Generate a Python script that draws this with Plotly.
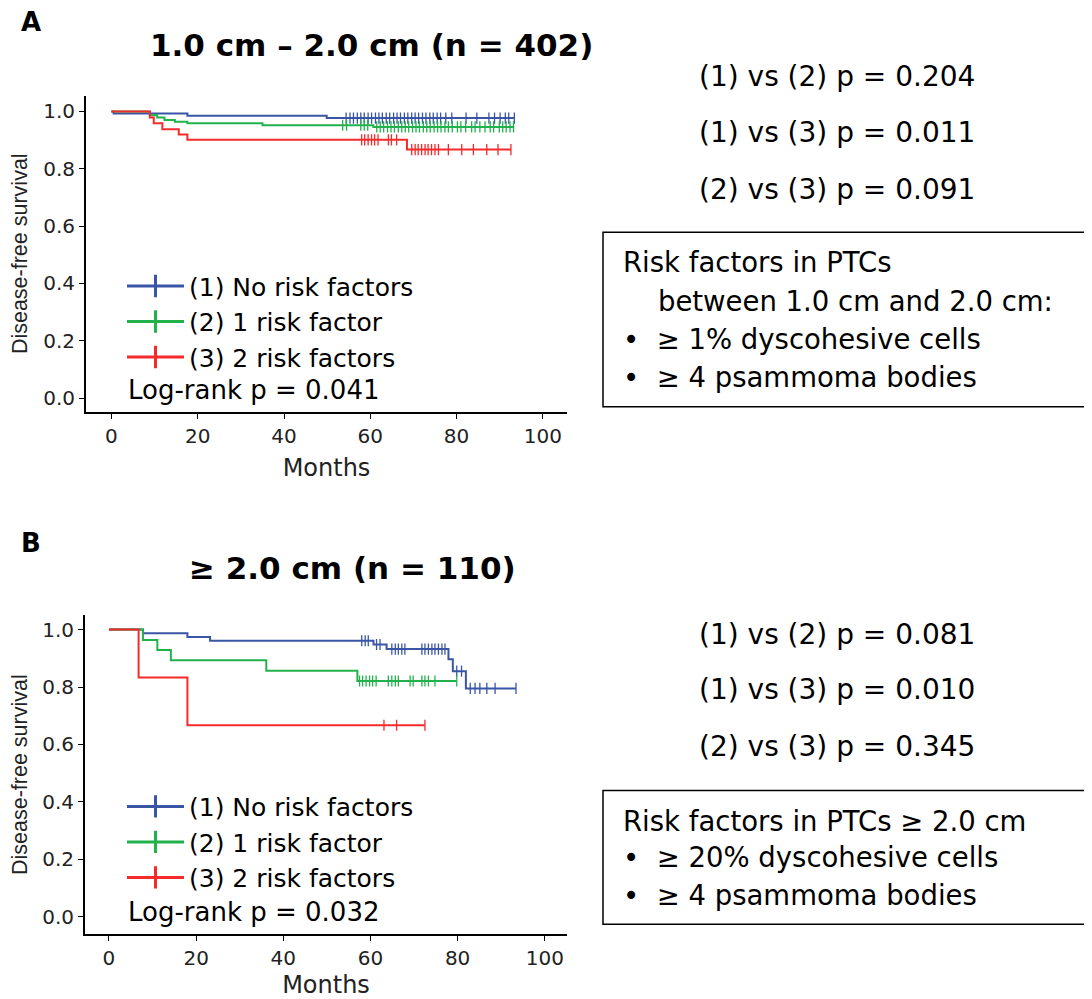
import plotly.graph_objects as go

# ---------------- data ----------------
groups = ["(1) No risk factors", "(2) 1 risk factor", "(3) 2 risk factors"]
colors = ["#3A55A6", "#22B24C", "#F52A2A"]

# Panel A: 1.0 cm - 2.0 cm
A_blue_t = [0.5, 17.6, 49.9]
A_blue_s = [0.993, 0.985, 0.977]
A_blue_c = [54.4, 55.3, 56.1, 57.0, 57.8, 58.6, 59.5, 60.3, 61.2, 62.0, 62.8, 63.7, 64.5,
            65.4, 66.2, 67.0, 67.9, 68.7, 69.6, 70.4, 71.2, 72.1, 72.9, 73.8, 74.6, 75.5,
            76.3, 77.5, 78.9, 82.2, 84.7, 87.5, 88.8, 90.1, 91.3, 92.1, 93.4]
A_green_t = [8.9, 10.6, 12.3, 14.7, 17.6, 35.0, 60.7]
A_green_s = [0.987, 0.979, 0.970, 0.964, 0.959, 0.952, 0.946]
A_green_c = [53.6, 54.5, 57.8, 58.6, 59.4, 61.5, 62.3, 63.1, 64.0, 64.8, 65.6, 66.5, 67.3,
             68.1, 68.9, 69.8, 70.6, 71.4, 72.3, 73.1, 73.9, 74.8, 75.6, 76.4, 77.3, 78.1,
             79.0, 80.2, 81.0, 82.1, 83.5, 84.3, 85.4, 86.6, 87.8, 88.6, 89.9, 90.7, 91.5,
             92.4, 93.2]
A_red_t = [8.9, 9.8, 11.8, 15.6, 17.6, 68.5]
A_red_s = [0.979, 0.959, 0.938, 0.920, 0.901, 0.867]
A_red_c = [58.0, 58.7, 59.5, 60.3, 61.0, 61.8, 64.2, 64.9, 66.1, 69.6, 70.4, 71.1, 71.9,
           72.7, 73.4, 74.2, 75.0, 75.8, 78.1, 81.2, 83.9, 87.0, 89.6, 92.6]

# Panel B: >= 2.0 cm
B_blue_t = [7.8, 18.0, 23.2, 60.7, 63.7, 77.9, 78.9, 81.9]
B_blue_s = [0.987, 0.974, 0.961, 0.948, 0.932, 0.897, 0.855, 0.795]
B_blue_c = [58.0, 58.8, 59.5, 61.4, 62.2, 64.9, 65.7, 66.4, 67.2, 67.9, 71.8, 72.5, 73.3,
            74.1, 74.8, 75.6, 76.4, 77.1, 79.8, 80.9, 82.9, 84.0, 85.1, 86.7, 88.6, 93.4]
B_green_t = [7.8, 11.1, 14.2, 36.1, 57.0]
B_green_s = [0.964, 0.929, 0.893, 0.857, 0.821]
B_green_c = [57.5, 58.2, 59.0, 59.8, 60.5, 61.3, 64.1, 64.9, 65.7, 66.4, 69.1, 69.8, 71.8,
             72.5, 73.3, 74.8, 79.8]
B_red_t = [6.8, 18.0]
B_red_s = [0.833, 0.667]
B_red_c = [63.1, 66.0, 72.5]

y_ticks = [0.0, 0.2, 0.4, 0.6, 0.8, 1.0]
x_ticks = [0, 20, 40, 60, 80, 100]

A_title = "1.0 cm – 2.0 cm (n = 402)"
B_title = "≥ 2.0 cm (n = 110)"
A_pvals = ["(1) vs (2) p = 0.204", "(1) vs (3) p = 0.011", "(2) vs (3) p = 0.091"]
B_pvals = ["(1) vs (2) p = 0.081", "(1) vs (3) p = 0.010", "(2) vs (3) p = 0.345"]
A_logrank = "Log-rank p = 0.041"
B_logrank = "Log-rank p = 0.032"
A_box = ["Risk factors in PTCs", "    between 1.0 cm and 2.0 cm:",
         "•  ≥ 1% dyscohesive cells", "•  ≥ 4 psammoma bodies"]
B_box = ["Risk factors in PTCs ≥ 2.0 cm", "•  ≥ 20% dyscohesive cells",
         "•  ≥ 4 psammoma bodies"]

FONT = "DejaVu Sans, sans-serif"
FONT_NARROW = "Liberation Sans, Arial, sans-serif"
OFF = 8                      # default page body margin
W, H = 1092 - OFF, 999 - OFF


def px(x):
    return (x - OFF) / W


def py(y):
    return 1 - (y - OFF) / H


def surv_at(t, times, surv):
    s = 1.0
    for ti, si in zip(times, surv):
        if ti <= t:
            s = si
    return s


def add_panel(fig, series, xa, ya, legend):
    for (times, surv, cens), name, col in zip(series, groups, colors):
        end = max(cens)
        xs = [0] + times + [end]
        ys = [1.0] + surv + [surv[-1]]
        fig.add_trace(go.Scatter(x=xs, y=ys, mode="lines", line=dict(color=col, width=2, shape="hv"),
                                 xaxis=xa, yaxis=ya, showlegend=False, hoverinfo="skip"))
        fig.add_trace(go.Scatter(x=cens, y=[surv_at(c, times, surv) for c in cens], mode="markers",
                                 marker=dict(symbol="line-ns", size=8, line=dict(color=col, width=1.3)),
                                 xaxis=xa, yaxis=ya, showlegend=False, hoverinfo="skip"))
        fig.add_trace(go.Scatter(x=[None], y=[None], mode="lines+markers", name=name,
                                 line=dict(color=col, width=3),
                                 marker=dict(symbol="line-ns", size=16, line=dict(color=col, width=3)),
                                 xaxis=xa, yaxis=ya, legend=legend, showlegend=True))


fig = go.Figure()
add_panel(fig, [(A_blue_t, A_blue_s, A_blue_c), (A_green_t, A_green_s, A_green_c),
                (A_red_t, A_red_s, A_red_c)], "x", "y", "legend")
add_panel(fig, [(B_blue_t, B_blue_s, B_blue_c), (B_green_t, B_green_s, B_green_c),
                (B_red_t, B_red_s, B_red_c)], "x2", "y2", "legend2")

axis_common = dict(showline=True, linecolor="black", linewidth=2, ticks="outside", ticklen=5,
                   tickwidth=1, tickcolor="black", showgrid=False, zeroline=False,
                   tickfont=dict(family=FONT, size=20, color="#222"))
xtitle = dict(text="Months", font=dict(family=FONT, size=24, color="#222"), standoff=12)
ytitle = dict(text="Disease-free survival", font=dict(family=FONT_NARROW, size=21.5, color="#222"),
              standoff=12)
leg = dict(xanchor="left", yanchor="top", bgcolor="rgba(0,0,0,0)",
           font=dict(family=FONT, size=25, color="black"), tracegroupgap=0, itemwidth=57)

fig.update_layout(
    width=W, height=H, margin=dict(l=0, r=0, t=0, b=0),
    paper_bgcolor="white", plot_bgcolor="white",
    xaxis=dict(domain=[px(86), px(567)], range=[-5.9, 105.6], anchor="y", tickvals=x_ticks,
               title=xtitle, **axis_common),
    yaxis=dict(domain=[py(413), py(96)], range=[-0.048, 1.055], anchor="x", tickvals=y_ticks,
               tickformat=".1f", title=ytitle, **axis_common),
    xaxis2=dict(domain=[px(85), px(567)], range=[-5.5, 105.1], anchor="y2", tickvals=x_ticks,
                title=xtitle, **axis_common),
    yaxis2=dict(domain=[py(937), py(617)], range=[-0.06, 1.05], anchor="x2", tickvals=y_ticks,
                tickformat=".1f", title=ytitle, **axis_common),
    legend=dict(x=px(122), y=py(264), **leg),
    legend2=dict(x=px(122), y=py(786), **leg),
    showlegend=True,
)

ann = []


def text(x, y, s, size, bold=False, xanchor="left", family=FONT):
    ann.append(dict(x=px(x), y=py(y), xref="paper", yref="paper", text=f"<b>{s}</b>" if bold else s,
                    showarrow=False, xanchor=xanchor, yanchor="middle",
                    font=dict(family=family, size=size, color="black")))


text(19, 22, "A", 26, bold=True)
text(19, 545, "B", 26, bold=True)
text(371, 45, A_title, 31, bold=True, xanchor="center")
text(352, 570, B_title, 31, bold=True, xanchor="center")
for s, yy in zip(A_pvals, [77, 133, 190]):
    text(837, yy, s, 28, xanchor="center")
for s, yy in zip(B_pvals, [636, 692, 749]):
    text(837, yy, s, 28, xanchor="center")
text(126, 391, A_logrank, 26)
text(126, 915, B_logrank, 26)
for s, yy in zip(A_box, [263, 302, 340, 378]):
    text(621, yy, s.replace("    ", "&nbsp;&nbsp;&nbsp;&nbsp;"), 27.5)
for s, yy in zip(B_box, [823, 860, 898]):
    text(621, yy, s, 27.5)

fig.update_layout(annotations=ann, shapes=[
    dict(type="rect", xref="paper", yref="paper", x0=px(603), x1=px(1087), y0=py(408), y1=py(233),
         line=dict(color="black", width=1.5)),
    dict(type="rect", xref="paper", yref="paper", x0=px(603), x1=px(1087), y0=py(927), y1=py(793),
         line=dict(color="black", width=1.5)),
])

fig.write_html("out.html")
